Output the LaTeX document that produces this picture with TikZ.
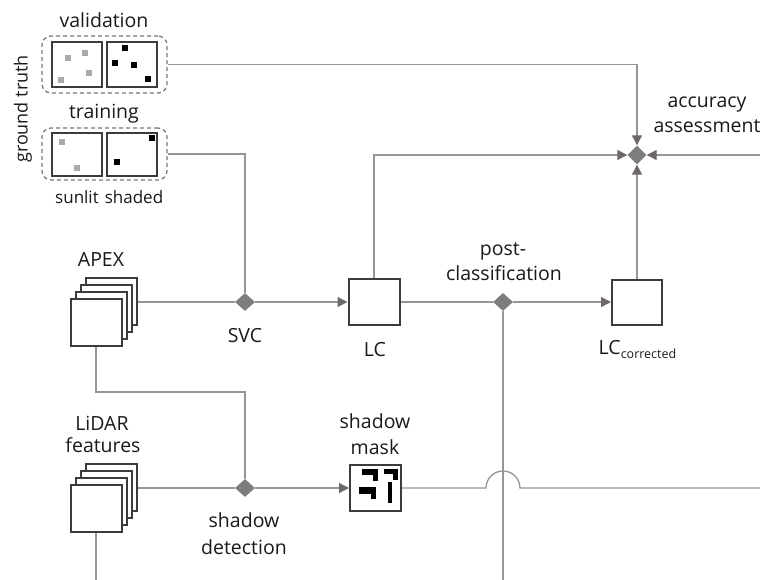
\documentclass[tikz,border=0pt]{standalone}
\usepackage{fontspec}
\setmainfont{Open Sans}
\usetikzlibrary{shapes.geometric,arrows.meta}
\definecolor{conncol}{RGB}{150,150,150}
\definecolor{diacol}{RGB}{125,125,125}
\definecolor{tipcol}{RGB}{110,105,105}
\definecolor{boxcol}{RGB}{60,60,60}
\definecolor{dotgray}{RGB}{170,170,170}
\definecolor{dashcol}{RGB}{120,120,120}
\definecolor{txtcol}{RGB}{25,25,25}
\begin{document}
\begin{tikzpicture}[x=1pt,y=-1pt,
  conn/.style={draw=conncol, line width=1.3pt},
  arr/.style={conn, -{Triangle[length=10pt,width=10pt,color=tipcol]}},
  sq/.style={draw=boxcol, line width=2pt, fill=white, minimum width=50pt, minimum height=46pt, inner sep=0pt},
  gsq/.style={draw=boxcol, line width=2pt, fill=white, minimum width=50pt, inner sep=0pt},
  grp/.style={draw=dashcol, line width=1.2pt, dash pattern=on 4pt off 3pt, rounded corners=9pt, minimum width=125pt, inner sep=0pt},
  dia/.style={diamond, fill=diacol, inner sep=0pt, minimum width=20pt, minimum height=18pt},
  gdot/.style={fill=dotgray, minimum size=6pt, inner sep=0pt},
  bdot/.style={fill=black, minimum size=6pt, inner sep=0pt},
  lab/.style={font=\fontsize{19.5}{24}\selectfont, text=txtcol, inner sep=0pt, anchor=base},
  slab/.style={font=\fontsize{17}{22}\selectfont, text=txtcol, inner sep=0pt, anchor=base}
]
\useasboundingbox (0,0) rectangle (760,580);

% ground truth groups
\node[grp, minimum height=57pt] (val) at (104.5,64.5) {};
\node[gsq, minimum height=45pt] (valsun) at (77,64.5) {};
\node[gsq, minimum height=45pt] (valsha) at (132,64.5) {};
\node[gdot] (vg1) at (68,58) {};
\node[gdot] (vg2) at (85,53) {};
\node[gdot] (vg3) at (89,73) {};
\node[gdot] (vg4) at (61,80) {};
\node[bdot] (vb1) at (125,48) {};
\node[bdot] (vb2) at (115,63) {};
\node[bdot] (vb3) at (134,65) {};
\node[bdot] (vb4) at (148,79) {};

\node[grp, minimum height=52pt] (tr) at (104.5,154) {};
\node[gsq, minimum height=43pt] (trsun) at (77,154.5) {};
\node[gsq, minimum height=43pt] (trsha) at (132,154.5) {};
\node[gdot] (tg1) at (62,142) {};
\node[gdot] (tg2) at (77,168) {};
\node[bdot] (tb1) at (152,138) {};
\node[bdot] (tb2) at (117,162) {};

\node[lab] (tval) at (104,28) {validation};
\node[lab] (ttr) at (104,119) {training};
\node[slab] (tsun) at (77,204) {sunlit};
\node[slab] (tsha) at (134,204) {shaded};
\node[font=\fontsize{18}{22}\selectfont, text=txtcol, inner sep=0pt, rotate=90] (tgt) at (23,109) {ground truth};

% APEX stack
\foreach \i in {3,2,1,0}{
  \node[sq, minimum width=51pt, minimum height=47pt] (apex\i) at (96+5.33*\i, 322-6.67*\i) {};
}
\node[lab] (tapex) at (101,266) {APEX};

% LiDAR stack
\foreach \i in {3,2,1,0}{
  \node[sq, minimum width=51pt, minimum height=47pt] (lid\i) at (96+5.33*\i, 508-6.67*\i) {};
}
\node[lab] (tlid1) at (102,430) {LiDAR};
\node[lab] (tlid2) at (103,452) {features};

% diamonds
\node[dia] (svc) at (245,302) {};
\node[dia] (sd) at (245,488) {};
\node[dia] (post) at (503,302) {};
\node[dia, minimum width=19pt, minimum height=19pt] (acc) at (637,155) {};

% boxes
\node[sq, minimum width=51pt] (lc) at (374,302) {};
\node[sq, minimum width=50pt, minimum height=45pt] (lcc) at (637,302) {};
\node[sq, minimum width=51pt, minimum height=46pt] (mask) at (375.5,488) {};
\fill[black] (362,469) rectangle (378,475);
\fill[black] (373,469) rectangle (378,481);
\fill[black] (384,469) rectangle (398,474);
\fill[black] (393,469) rectangle (398,480);
\fill[black] (388,482) rectangle (392,503);
\fill[black] (359,487) rectangle (376,494);
\fill[black] (371,487) rectangle (376,499);

% labels
\node[lab] (tsvc) at (245,342) {SVC};
\node[lab] (tlc) at (375,356) {LC};
\node[lab] (tpost1) at (503,255) {post-};
\node[lab] (tpost2) at (504,280) {classification};
\node[lab] (tlcc) at (637.5,354) {LC\raisebox{-4pt}{\fontsize{12.5}{15}\selectfont corrected}};
\node[lab] (tacc1) at (707,108) {accuracy};
\node[lab] (tacc2) at (707,133) {assessment};
\node[lab] (tmask1) at (375,428) {shadow};
\node[lab] (tmask2) at (375,454) {mask};
\node[lab] (tsd1) at (244,527) {shadow};
\node[lab] (tsd2) at (244,554) {detection};

% coordinates
\coordinate (k1) at (245,392);
\coordinate (accin) at (760,155);
\coordinate (maskout) at (760,488);
\coordinate (j1) at (486,488);
\coordinate (j2) at (520,488);
\coordinate (lidend) at (96,580);
\coordinate (postend) at (503,580);

% connectors
\draw[arr] (val.east) -| (acc.north);
\draw[conn] (tr.east) -| (svc.north);
\draw[conn] (apex3.east |- svc.west) -- (svc.west);
\draw[arr] (svc.east) -- (lc.west);
\draw[arr] (lc.north) |- (acc.west);
\draw[conn] (lc.east) -- (post.west);
\draw[arr] (post.east) -- (lcc.west);
\draw[arr] (lcc.north) -- (acc.south);
\draw[arr] (accin) -- (acc.east);
\draw[conn] (post.south) -- (postend);
\draw[conn] (apex0.south) |- (k1) -- (sd.north);
\draw[conn] (lid3.east |- sd.west) -- (sd.west);
\draw[arr] (sd.east) -- (mask.west);
\draw[conn] (lid0.south) -- (lidend);
\draw[conn] (mask.east) -- (j1) .. controls (486,478.6) and (493.6,471) .. (503,471) .. controls (512.4,471) and (520,478.6) .. (j2) -- (maskout);
\end{tikzpicture}
\end{document}
